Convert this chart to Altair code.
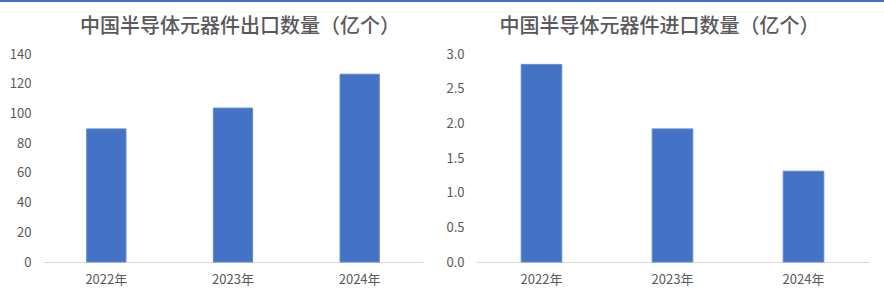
import altair as alt
import pandas as pd

years = ["2022年", "2023年", "2024年"]
export_vals = [89.6, 103.6, 126.4]
import_vals = [2.85, 1.92, 1.31]
export_ticks = [0, 20, 40, 60, 80, 100, 120, 140]
import_ticks = [0, 0.5, 1.0, 1.5, 2.0, 2.5, 3.0]
export_title = "中国半导体元器件出口数量（亿个）"
import_title = "中国半导体元器件进口数量（亿个）"

FONT = "Noto Sans CJK SC"
GREY = "#595959"
BLUE = "#4472C4"


def panel(values, title, width, ticks, fmt, dx):
    df = pd.DataFrame({"year": years, "value": values})
    return (
        alt.Chart(
            df,
            title=alt.TitleParams(
                title, fontSize=20, color=GREY, font=FONT, fontWeight=500,
                anchor="middle", offset=11, dx=dx,
            ),
        )
        .mark_bar(color=BLUE, stroke="#6088D4", strokeWidth=1)
        .encode(
            x=alt.X(
                "year:N", sort=years, title=None,
                scale=alt.Scale(paddingInner=0.69, paddingOuter=0.345),
                axis=alt.Axis(
                    labelAngle=0, ticks=False, domainColor="#D9D9D9", domainWidth=1,
                    labelColor=GREY, labelFontSize=13, labelFont=FONT,
                    labelPadding=11, grid=False,
                ),
            ),
            y=alt.Y(
                "value:Q", title=None,
                scale=alt.Scale(domain=[ticks[0], ticks[-1]], nice=False),
                axis=alt.Axis(
                    values=ticks, format=fmt, domain=False, ticks=False, grid=False,
                    labelColor=GREY, labelFontSize=13, labelFont=FONT, labelPadding=12,
                ),
            ),
        )
        .properties(width=width, height=208)
    )


left = panel(export_vals, export_title, 380, export_ticks, "d", 7)
right = panel(import_vals, import_title, 393, import_ticks, ".1f", -13)

line_df = pd.DataFrame({"k": [0]})
topline = (
    alt.Chart(line_df)
    .mark_rect(color=BLUE)
    .encode(x=alt.value(-43), x2=alt.value(841), y=alt.value(-40), y2=alt.value(-38))
    .properties(width=10, height=2)
)

charts = alt.hconcat(left, right, spacing=22)
chart = (
    alt.vconcat(topline, charts, spacing=12, bounds="flush")
    .properties(padding={"left": 0, "top": 0, "right": 0, "bottom": 0})
    .configure_view(stroke=None)
)
chart.save("out.html", embed_options={"renderer": "svg", "actions": False})
